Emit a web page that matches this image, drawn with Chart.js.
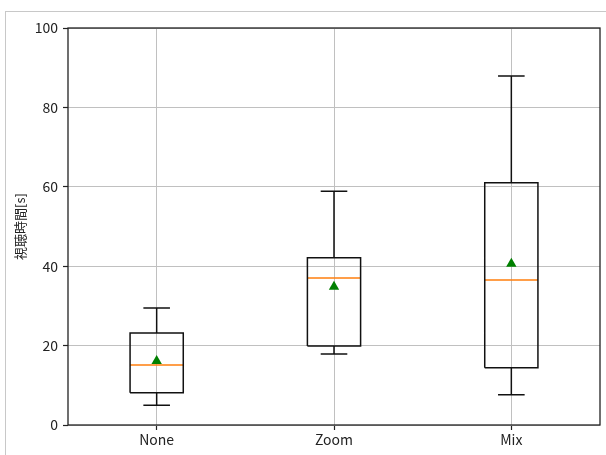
<!DOCTYPE html>
<html>
<head>
<meta charset="utf-8">
<script src="https://cdn.jsdelivr.net/npm/chart.js@4"></script>
<style>
  html, body { margin: 0; padding: 0; background: #fff; overflow: hidden; }
  #frame { position: absolute; left: 5px; top: 11px; right: 0; bottom: 0;
           border-left: 1px solid #c8c8c8; border-top: 1px solid #c8c8c8; }
  #wrap { position: absolute; left: 0; top: 0; width: 606px; height: 455px; }
</style>
</head>
<body>
<div id="frame"></div>
<div id="wrap"><canvas id="myChart" width="606" height="455"></canvas></div>
<script>
  // categories and box statistics
  const categories = ['None', 'Zoom', 'Mix']
  const positions = [1, 2, 3]
  const whiskerLow = [5.0, 17.9, 7.6]
  const q1 = [8.1, 19.9, 14.4]
  const median = [15.1, 37.0, 36.5]
  const q3 = [23.2, 42.1, 61.0]
  const whiskerHigh = [29.5, 58.9, 87.9]
  const means = [16.1, 34.8, 40.6]
  const yTicks = [0, 20, 40, 60, 80, 100]

  const boxHalf = 0.15
  const capHalf = 0.075
  const gap = (p) => ({ x: p, y: null })

  const boxData = []
  const whiskerData = []
  const capData = []
  const medianData = []
  positions.forEach((p, i) => {
    boxData.push(
      { x: p - boxHalf, y: q1[i] }, { x: p + boxHalf, y: q1[i] },
      { x: p + boxHalf, y: q3[i] }, { x: p - boxHalf, y: q3[i] },
      { x: p - boxHalf, y: q1[i] }, gap(p))
    whiskerData.push(
      { x: p, y: q1[i] }, { x: p, y: whiskerLow[i] }, gap(p),
      { x: p, y: q3[i] }, { x: p, y: whiskerHigh[i] }, gap(p))
    capData.push(
      { x: p - capHalf, y: whiskerLow[i] }, { x: p + capHalf, y: whiskerLow[i] }, gap(p),
      { x: p - capHalf, y: whiskerHigh[i] }, { x: p + capHalf, y: whiskerHigh[i] }, gap(p))
    medianData.push({ x: p - boxHalf, y: median[i] }, { x: p + boxHalf, y: median[i] }, gap(p))
  })
  const meanData = positions.map((p, i) => ({ x: p, y: means[i] }))

  const lineStyle = (data, color) => ({
    type: 'line',
    data: data,
    borderColor: color,
    borderWidth: 1.5,
    pointRadius: 0,
    spanGaps: false,
    tension: 0,
    fill: false
  })

  // axes frame like matplotlib spines
  const framePlugin = {
    id: 'frame',
    afterDatasetsDraw(chart) {
      const a = chart.chartArea
      const c = chart.ctx
      c.save()
      c.strokeStyle = '#222'
      c.lineWidth = 1.3
      c.strokeRect(a.left, a.top, a.right - a.left, a.bottom - a.top)
      c.restore()
    }
  }

  const font = { family: "'Noto Sans CJK JP', 'Noto Sans', sans-serif", size: 14 }

  const ctx = document.getElementById('myChart')
  // eslint-disable-next-line no-unused-vars
  const myChart = new Chart(ctx, {
    data: {
      datasets: [
        lineStyle(boxData, '#111'),
        lineStyle(whiskerData, '#111'),
        lineStyle(capData, '#111'),
        lineStyle(medianData, '#ff7f0e'),
        {
          type: 'scatter',
          data: meanData,
          pointStyle: 'triangle',
          pointRadius: 6,
          backgroundColor: '#008000',
          borderColor: '#008000',
          borderWidth: 0
        }
      ]
    },
    options: {
      responsive: false,
      animation: false,
      layout: { padding: { left: 0, top: 28, right: 3, bottom: 0 } },
      plugins: {
        legend: { display: false },
        tooltip: { enabled: false }
      },
      scales: {
        x: {
          type: 'linear',
          min: 0.5,
          max: 3.5,
          afterBuildTicks: (scale) => { scale.ticks = positions.map(v => ({ value: v })) },
          afterFit: (scale) => {
            scale.height = 30
            scale.paddingLeft = 0
            scale.paddingRight = 0
          },
          ticks: {
            callback: (v) => categories[positions.indexOf(v)] || '',
            color: '#222',
            font: font,
            padding: 1,
            maxRotation: 0
          },
          grid: { color: '#c0c0c0', lineWidth: 1, tickColor: '#222', tickLength: 5, tickWidth: 1.2 },
          border: { display: false }
        },
        y: {
          min: 0,
          max: 100,
          afterBuildTicks: (scale) => { scale.ticks = yTicks.map(v => ({ value: v })) },
          afterFit: (scale) => {
            scale.width = 68
            scale.paddingTop = 0
            scale.paddingBottom = 0
          },
          ticks: { color: '#222', font: font, padding: 5 },
          grid: { color: '#c0c0c0', lineWidth: 1, tickColor: '#222', tickLength: 5, tickWidth: 1.2 },
          border: { display: false },
          title: {
            display: true,
            text: '視聴時間[s]',
            color: '#222',
            font: { family: "'Noto Sans CJK JP', sans-serif", size: 13 },
            padding: { top: 12, bottom: 0 }
          }
        }
      }
    },
    plugins: [framePlugin]
  })
</script>
</body>
</html>
